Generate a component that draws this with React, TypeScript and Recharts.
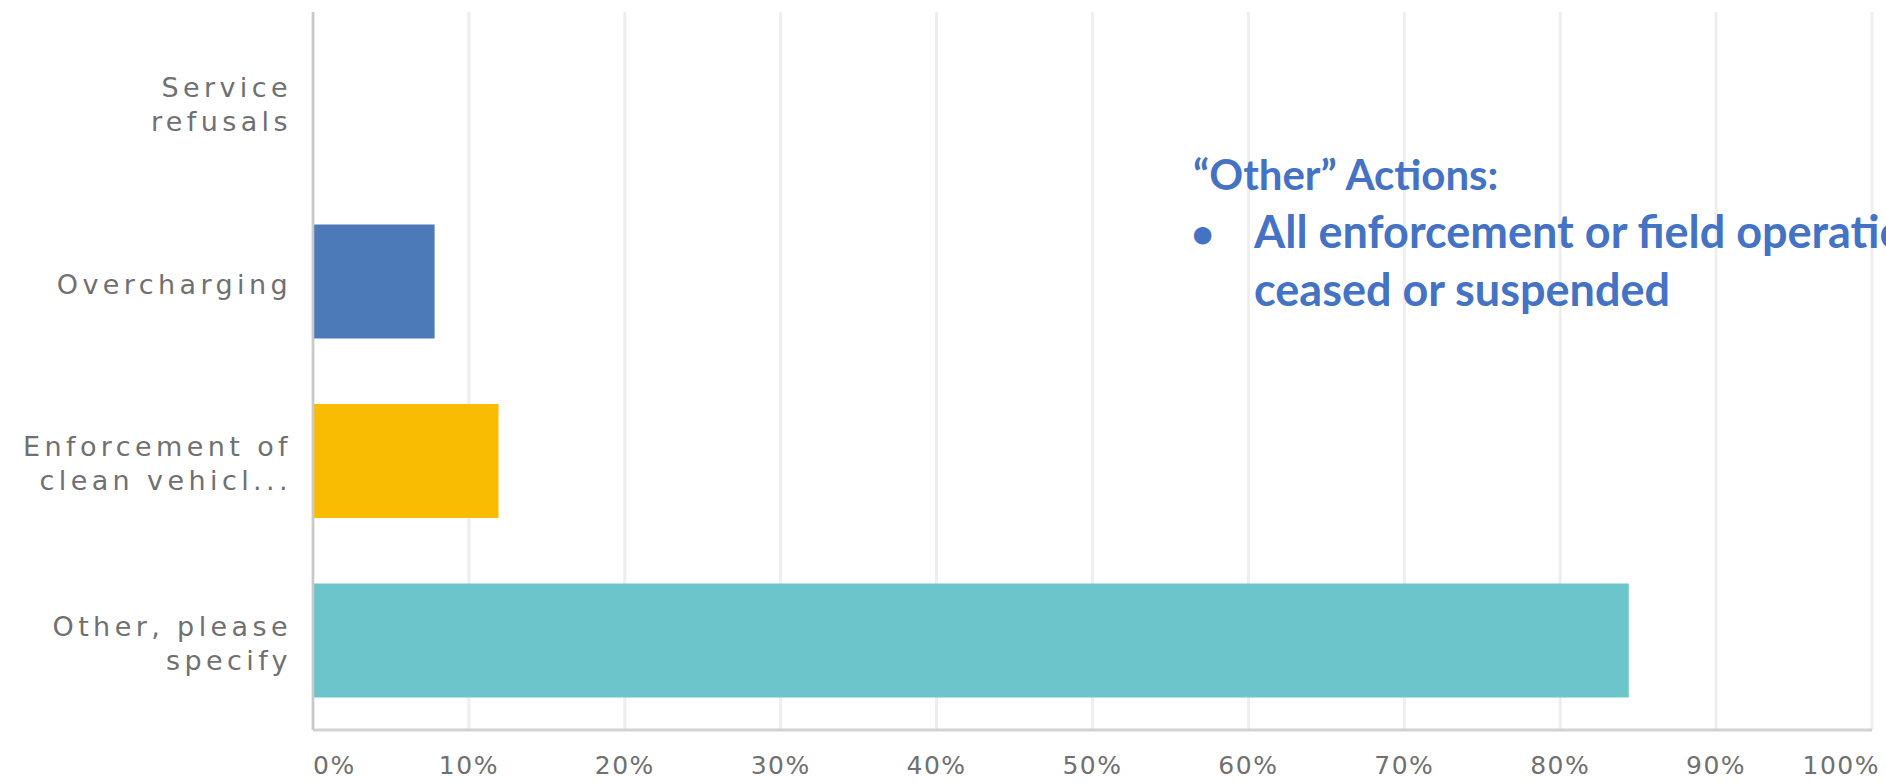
import React from 'react';
import { BarChart, Bar, XAxis, YAxis, CartesianGrid, Cell } from 'recharts';

const categories = ['Service refusals', 'Overcharging', 'Enforcement of clean vehicl...', 'Other, please specify'];
const categoryLines = [['Service', 'refusals'], ['Overcharging'], ['Enforcement of', 'clean vehicl...'], ['Other, please', 'specify']];
const values = [0, 7.8, 11.9, 84.4];
const barColors = ['#4C79B8', '#4C79B8', '#F9BC02', '#6CC5CB'];
const xTicks = [0, 10, 20, 30, 40, 50, 60, 70, 80, 90, 100];
const xTickLabels = ['0%', '10%', '20%', '30%', '40%', '50%', '60%', '70%', '80%', '90%', '100%'];
const noteTitle = '\u201COther\u201D Actions:';
const noteBullet = '\u2022';
const noteLines = ['All enforcement or field operations', 'ceased or suspended'];

const data = categories.map((name, i) => ({ name, value: values[i] }));

const W = 1886;
const H = 783;
const labelFont = '"DejaVu Sans", sans-serif';

const YTick = (props: any) => {
  const { x, y, payload } = props;
  const idx = categories.indexOf(payload.value);
  const lines = categoryLines[idx] || [String(payload.value)];
  const gap = 34;
  const start = -((lines.length - 1) * gap) / 2 + 3;
  return (
    <g>
      {lines.map((l, i) => (
        <text
          key={i}
          x={x + 4}
          y={y + start + i * gap}
          dy="0.35em"
          textAnchor="end"
          fill="#707070"
          style={{ fontFamily: labelFont, fontSize: 27, letterSpacing: 4.4 }}
        >
          {l}
        </text>
      ))}
    </g>
  );
};

const XTick = (props: any) => {
  const { x, y, payload, index } = props;
  const i = xTicks.indexOf(payload.value);
  const anchor = i === 0 ? 'start' : i === xTicks.length - 1 ? 'end' : 'middle';
  const shift = i === xTicks.length - 1 ? 8 : 0;
  return (
    <text
      x={x + shift}
      y={y}
      dy="0.35em"
      textAnchor={anchor}
      fill="#707070"
      style={{ fontFamily: labelFont, fontSize: 25, letterSpacing: 1.5 }}
    >
      {xTickLabels[i >= 0 ? i : index]}
    </text>
  );
};

export default function App() {
  return (
    <div style={{ position: 'absolute', left: 0, top: 0, width: W, height: H, overflow: 'hidden', background: '#fff' }}>
      <BarChart
        width={W}
        height={H}
        data={data}
        layout="vertical"
        margin={{ top: 12, right: 14, bottom: 0, left: 0 }}
        barCategoryGap="18%"
      >
        <CartesianGrid horizontal={false} vertical={true} stroke="#eeeeee" strokeWidth={3} />
        <XAxis
          type="number"
          domain={[0, 100]}
          ticks={xTicks}
          interval={0}
          height={53}
          axisLine={{ stroke: '#d2d2d2', strokeWidth: 3 }}
          tickLine={false}
          tickSize={0}
          tickMargin={35}
          tick={<XTick />}
        />
        <YAxis
          type="category"
          dataKey="name"
          width={313}
          axisLine={{ stroke: '#c9c9c9', strokeWidth: 2.5 }}
          tickLine={false}
          tickSize={0}
          tickMargin={25}
          interval={0}
          tick={<YTick />}
        />
        <Bar dataKey="value" barSize={114} isAnimationActive={false}>
          {data.map((d, i) => (
            <Cell key={i} fill={barColors[i]} />
          ))}
        </Bar>
      </BarChart>
      <svg width={W} height={H} style={{ position: 'absolute', left: 0, top: 0, pointerEvents: 'none' }}>
        <g style={{ fontFamily: 'Lato, "Open Sans", sans-serif', fontWeight: 700, fontSize: 45 }} fill="#4472C4">
          <text x={1193} y={190} style={{ fontSize: 42 }}>{noteTitle}</text>
          <text x={1191} y={248} style={{ fontSize: 40 }}>{noteBullet}</text>
          <text x={1254} y={248}>{noteLines[0]}</text>
          <text x={1254} y={306}>{noteLines[1]}</text>
        </g>
      </svg>
    </div>
  );
}
